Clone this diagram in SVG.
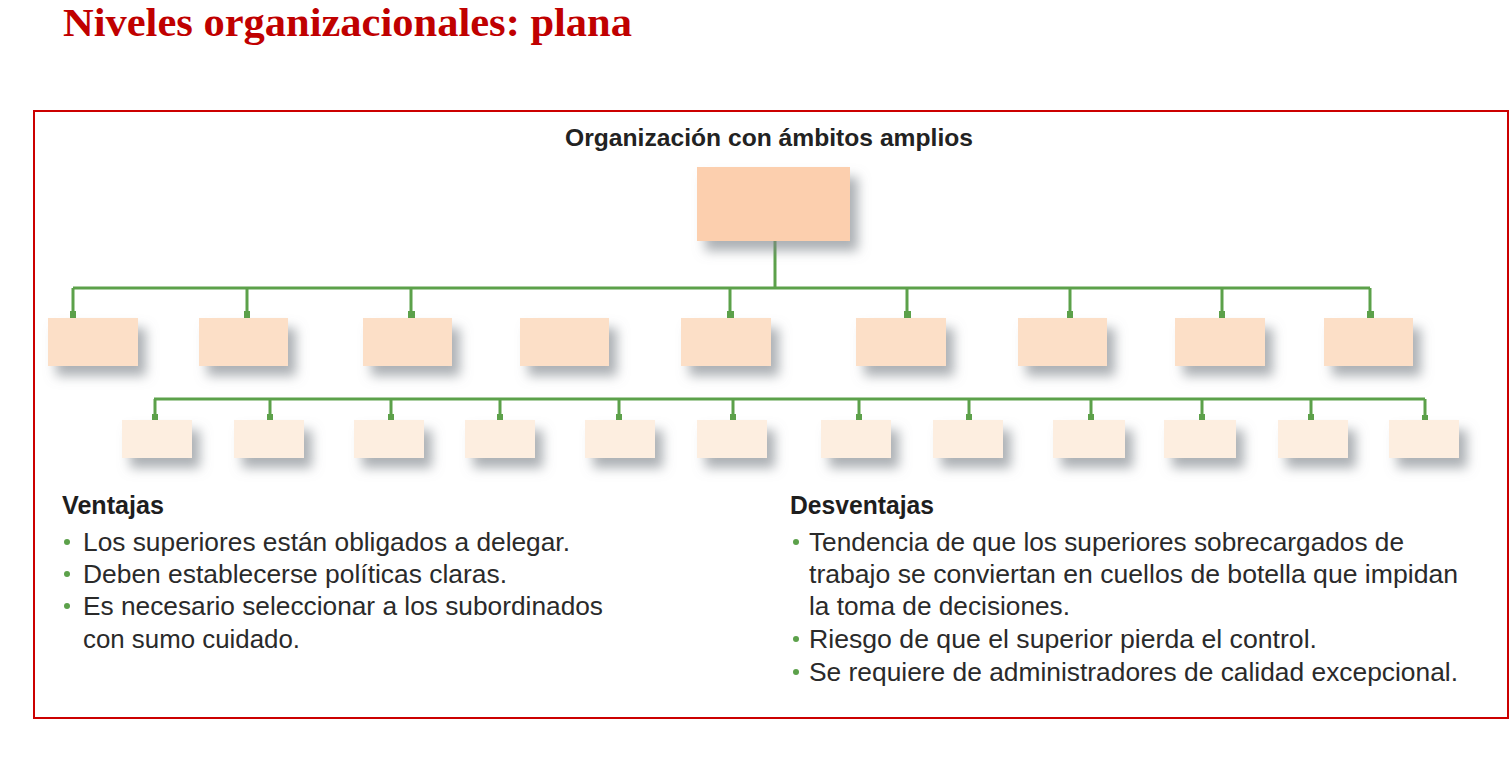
<svg xmlns="http://www.w3.org/2000/svg" width="1510" height="780" viewBox="0 0 1510 780">
<style>
.title{font-family:"Liberation Sans",sans-serif;font-family:"Liberation Serif",serif;font-weight:bold;font-size:40px;fill:#c00000}
.sub{font-family:"Liberation Sans",sans-serif;font-weight:bold;font-size:24px;fill:#222}
.hd{font-family:"Liberation Sans",sans-serif;font-weight:bold;font-size:25px;fill:#1e1e1e}
.tx{font-family:"Liberation Sans",sans-serif;font-size:25px;fill:#2a2a2a}
.l1{fill:#fccfae}
.l2{fill:#fcdfc7}
.l3{fill:#fdeee0}
.ln{stroke:#5ca14a;stroke-width:3;fill:none}
.end{fill:#5ca14a}
.dot{fill:#5ca14a}
</style>
<defs>
<filter id="sh" x="-40%" y="-40%" width="190%" height="220%">
<feDropShadow dx="8" dy="10" stdDeviation="6" flood-color="#80868c" flood-opacity="0.65"/>
</filter>
</defs>
<rect width="1510" height="780" fill="#fff"/>
<text class="title" x="63" y="36" textLength="569" lengthAdjust="spacingAndGlyphs">Niveles organizacionales: plana</text>
<rect x="34" y="111" width="1474" height="607" fill="none" stroke="#cc0000" stroke-width="2"/>
<text class="sub" x="565" y="146" textLength="408" lengthAdjust="spacingAndGlyphs">Organización con ámbitos amplios</text>

<g id="connectors">
<path class="ln" d="M775 241 V288" stroke-width="4"/>
<path class="ln" d="M73 288 H1370"/>
<path class="ln" d="M73 288 V318 M247 288 V318 M411 288 V318 M730 288 V318 M907 288 V318 M1070 288 V318 M1222 288 V318 M1370 288 V318"/>
<g class="end">
<rect x="70" y="311" width="6" height="7"/><rect x="244" y="311" width="6" height="7"/><rect x="408" y="311" width="7" height="7"/><rect x="727" y="311" width="7" height="7"/><rect x="904" y="311" width="7" height="7"/><rect x="1067" y="311" width="6" height="7"/><rect x="1219" y="311" width="6" height="7"/><rect x="1367" y="311" width="7" height="7"/>
</g>
<path class="ln" d="M154 399 H1425"/>
<path class="ln" d="M155 399 V420 M270 399 V420 M391 399 V420 M500 399 V420 M619 399 V420 M733 399 V420 M859 399 V420 M969 399 V420 M1091 399 V420 M1202 399 V420 M1311 399 V420 M1425 399 V420"/>
<g class="end">
<rect x="152" y="414" width="6" height="6"/><rect x="267" y="414" width="6" height="6"/><rect x="388" y="414" width="6" height="6"/><rect x="497" y="414" width="6" height="6"/><rect x="616" y="414" width="6" height="6"/><rect x="730" y="414" width="6" height="6"/><rect x="856" y="414" width="6" height="6"/><rect x="966" y="414" width="6" height="6"/><rect x="1088" y="414" width="6" height="6"/><rect x="1199" y="414" width="6" height="6"/><rect x="1308" y="414" width="6" height="6"/><rect x="1422" y="415" width="6" height="5"/>
</g>
</g>

<g id="top"><rect class="l1" x="697" y="167" width="153" height="74" filter="url(#sh)"/></g>

<g id="level2">
<rect id="n2-1" class="l2" x="48" y="318" width="90" height="48" filter="url(#sh)"/>
<rect id="n2-2" class="l2" x="199" y="318" width="89" height="48" filter="url(#sh)"/>
<rect id="n2-3" class="l2" x="363" y="318" width="89" height="48" filter="url(#sh)"/>
<rect id="n2-4" class="l2" x="520" y="318" width="89" height="48" filter="url(#sh)"/>
<rect id="n2-5" class="l2" x="681" y="318" width="90" height="48" filter="url(#sh)"/>
<rect id="n2-6" class="l2" x="856" y="318" width="90" height="48" filter="url(#sh)"/>
<rect id="n2-7" class="l2" x="1018" y="318" width="89" height="48" filter="url(#sh)"/>
<rect id="n2-8" class="l2" x="1175" y="318" width="90" height="48" filter="url(#sh)"/>
<rect id="n2-9" class="l2" x="1324" y="318" width="89" height="48" filter="url(#sh)"/>
</g>

<g id="level3">
<rect id="n3-1" class="l3" x="122" y="420" width="70" height="38" filter="url(#sh)"/>
<rect id="n3-2" class="l3" x="234" y="420" width="70" height="38" filter="url(#sh)"/>
<rect id="n3-3" class="l3" x="354" y="420" width="70" height="38" filter="url(#sh)"/>
<rect id="n3-4" class="l3" x="465" y="420" width="70" height="38" filter="url(#sh)"/>
<rect id="n3-5" class="l3" x="585" y="420" width="70" height="38" filter="url(#sh)"/>
<rect id="n3-6" class="l3" x="697" y="420" width="70" height="38" filter="url(#sh)"/>
<rect id="n3-7" class="l3" x="821" y="420" width="70" height="38" filter="url(#sh)"/>
<rect id="n3-8" class="l3" x="933" y="420" width="70" height="38" filter="url(#sh)"/>
<rect id="n3-9" class="l3" x="1053" y="420" width="72" height="38" filter="url(#sh)"/>
<rect id="n3-10" class="l3" x="1164" y="420" width="72" height="38" filter="url(#sh)"/>
<rect id="n3-11" class="l3" x="1278" y="420" width="70" height="38" filter="url(#sh)"/>
<rect id="n3-12" class="l3" x="1389" y="420" width="70" height="38" filter="url(#sh)"/>
</g>

<g id="ventajas">
<text class="hd" x="62" y="514" textLength="102" lengthAdjust="spacingAndGlyphs">Ventajas</text>
<circle class="dot" cx="67" cy="542" r="3"/>
<circle class="dot" cx="67" cy="574" r="3"/>
<circle class="dot" cx="67" cy="606" r="3"/>
<text class="tx" x="83" y="551" textLength="487" lengthAdjust="spacingAndGlyphs">Los superiores están obligados a delegar.</text>
<text class="tx" x="83" y="583" textLength="424" lengthAdjust="spacingAndGlyphs">Deben establecerse políticas claras.</text>
<text class="tx" x="83" y="615" textLength="520" lengthAdjust="spacingAndGlyphs">Es necesario seleccionar a los subordinados</text>
<text class="tx" x="83" y="648" textLength="217" lengthAdjust="spacingAndGlyphs">con sumo cuidado.</text>
</g>

<g id="desventajas">
<text class="hd" x="790" y="514" textLength="144" lengthAdjust="spacingAndGlyphs">Desventajas</text>
<circle class="dot" cx="796" cy="542" r="3"/>
<circle class="dot" cx="796" cy="639" r="3"/>
<circle class="dot" cx="796" cy="672" r="3"/>
<text class="tx" x="809" y="551" textLength="595" lengthAdjust="spacingAndGlyphs">Tendencia de que los superiores sobrecargados de</text>
<text class="tx" x="809" y="583" textLength="649" lengthAdjust="spacingAndGlyphs">trabajo se conviertan en cuellos de botella que impidan</text>
<text class="tx" x="809" y="615" textLength="261" lengthAdjust="spacingAndGlyphs">la toma de decisiones.</text>
<text class="tx" x="809" y="648" textLength="508" lengthAdjust="spacingAndGlyphs">Riesgo de que el superior pierda el control.</text>
<text class="tx" x="809" y="681" textLength="649" lengthAdjust="spacingAndGlyphs">Se requiere de administradores de calidad excepcional.</text>
</g>
</svg>
